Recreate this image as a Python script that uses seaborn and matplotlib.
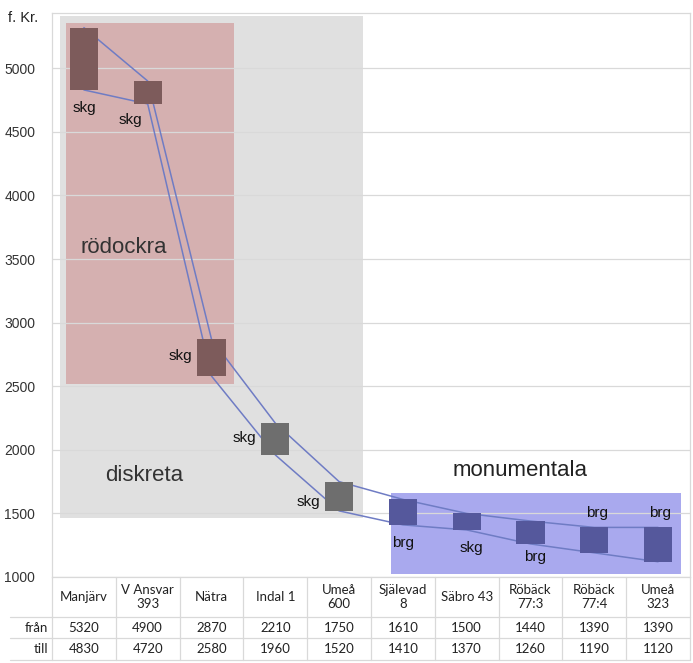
import numpy as np
import pandas as pd
import seaborn as sns
import matplotlib.pyplot as plt
from matplotlib.patches import Rectangle
import matplotlib.transforms as mtransforms

sites = ["Manjärv", "V Ansvar\n393", "Nätra", "Indal 1", "Umeå\n600",
         "Själevad\n8", "Säbro 43", "Röbäck\n77:3", "Röbäck\n77:4", "Umeå\n323"]
fran = [5320, 4900, 2870, 2210, 1750, 1610, 1500, 1440, 1390, 1390]
till = [4830, 4720, 2580, 1960, 1520, 1410, 1370, 1260, 1190, 1120]
types = ["skg", "skg", "skg", "skg", "skg", "brg", "skg", "brg", "brg", "brg"]
box_colors = ["#7d5b5b", "#7d5b5b", "#7d5b5b", "#6e6e6e", "#6e6e6e",
              "#55589c", "#55589c", "#55589c", "#55589c", "#55589c"]

df = pd.DataFrame({"pos": np.arange(len(sites)), "fran": fran, "till": till})

sns.set_style("white")
plt.rcParams['font.family'] = ['Liberation Sans', 'DejaVu Sans']

fig = plt.figure(figsize=(6.93, 6.63), dpi=100)
ax = fig.add_axes([52 / 693, 1 - 577 / 663, 638 / 693, 564 / 663])

# background groups
ax.add_patch(Rectangle((-0.38, 1465), 4.75, 3945, color="#e0e0e0", zorder=0.2, lw=0))
ax.add_patch(Rectangle((-0.28, 2515), 2.63, 2840, color="#d5b0b0", zorder=0.3, lw=0))
ax.add_patch(Rectangle((4.81, 1025), 4.55, 635, color="#a9a9ee", zorder=0.3, lw=0))

ax.text(-0.06, 3590, "rödockra", fontsize=16, color="#333333", va="center", zorder=3)
ax.text(0.33, 1800, "diskreta", fontsize=16, color="#333333", va="center", zorder=3)
ax.text(6.83, 1840, "monumentala", fontsize=16, color="#222222", va="center",
        ha="center", zorder=3)

# lines joining the interval ends
sns.lineplot(data=df, x="pos", y="fran", color="#6f7cc4", lw=1.1, ax=ax, zorder=2)
sns.lineplot(data=df, x="pos", y="till", color="#6f7cc4", lw=1.1, ax=ax, zorder=2)

# interval boxes
ax.bar(df["pos"], df["fran"] - df["till"], bottom=df["till"], width=0.44,
       color=box_colors, edgecolor="none", linewidth=0, zorder=2.5)

# box labels: (x offset, y value, ha)
label_pos = [(0, 4685, "center"), (-0.27, 4590, "center"), (-0.3, 2740, "right"),
             (-0.3, 2090, "right"), (-0.3, 1590, "right"), (0, 1270, "center"),
             (0.08, 1230, "center"), (0.07, 1160, "center"), (0.05, 1500, "center"),
             (0.03, 1500, "center")]
for i, (dx, yv, ha) in enumerate(label_pos):
    ax.text(i + dx, yv, types[i], fontsize=11, color="#111111", ha=ha,
            va="center", zorder=3)

ax.set_xlim(-0.5, 9.5)
ax.set_ylim(1000, 5435)
ax.set_yticks(range(1000, 5001, 500))
ax.set_xticks([])
ax.set_xlabel("")
ax.set_ylabel("")
ax.set_axisbelow(True)
ax.yaxis.grid(True, color="#d9d9d9", lw=0.9)
ax.tick_params(axis="y", length=0, labelsize=10, labelcolor="#333333", pad=12)
for s in ax.spines.values():
    s.set_color("#d9d9d9")
    s.set_linewidth(0.9)
fig.text(8 / 693, 1 - 18 / 663, "f. Kr.", ha="left", va="center",
         fontsize=10.5, color="#222222")

# data table under the axis
trans = mtransforms.blended_transform_factory(ax.transData, fig.transFigure)
row_y = [1 - 577 / 663, 1 - 617 / 663, 1 - 638 / 663, 1 - 660 / 663]
left_edge = -0.5 - 42 / 63.8
tfont = dict(family=["Lato", "DejaVu Sans"], fontsize=9.5, color="#222222")
for yy in row_y[1:]:
    ax.plot([left_edge, 9.5], [yy, yy], transform=trans, color="#d9d9d9",
            lw=0.9, clip_on=False)
for xx in np.arange(-0.5, 10, 1.0):
    ax.plot([xx, xx], [row_y[0], row_y[3]], transform=trans, color="#d9d9d9",
            lw=0.9, clip_on=False)
for i, name in enumerate(sites):
    ax.text(i, (row_y[0] + row_y[1]) / 2, name, transform=trans, ha="center",
            va="center", linespacing=1.15, **tfont)
    ax.text(i, (row_y[1] + row_y[2]) / 2, str(fran[i]), transform=trans,
            ha="center", va="center", **tfont)
    ax.text(i, (row_y[2] + row_y[3]) / 2, str(till[i]), transform=trans,
            ha="center", va="center", **tfont)
ax.text(-0.56, (row_y[1] + row_y[2]) / 2, "från", transform=trans, ha="right",
        va="center", **tfont)
ax.text(-0.56, (row_y[2] + row_y[3]) / 2, "till", transform=trans, ha="right",
        va="center", **tfont)

fig.savefig("out.png", dpi=100)
